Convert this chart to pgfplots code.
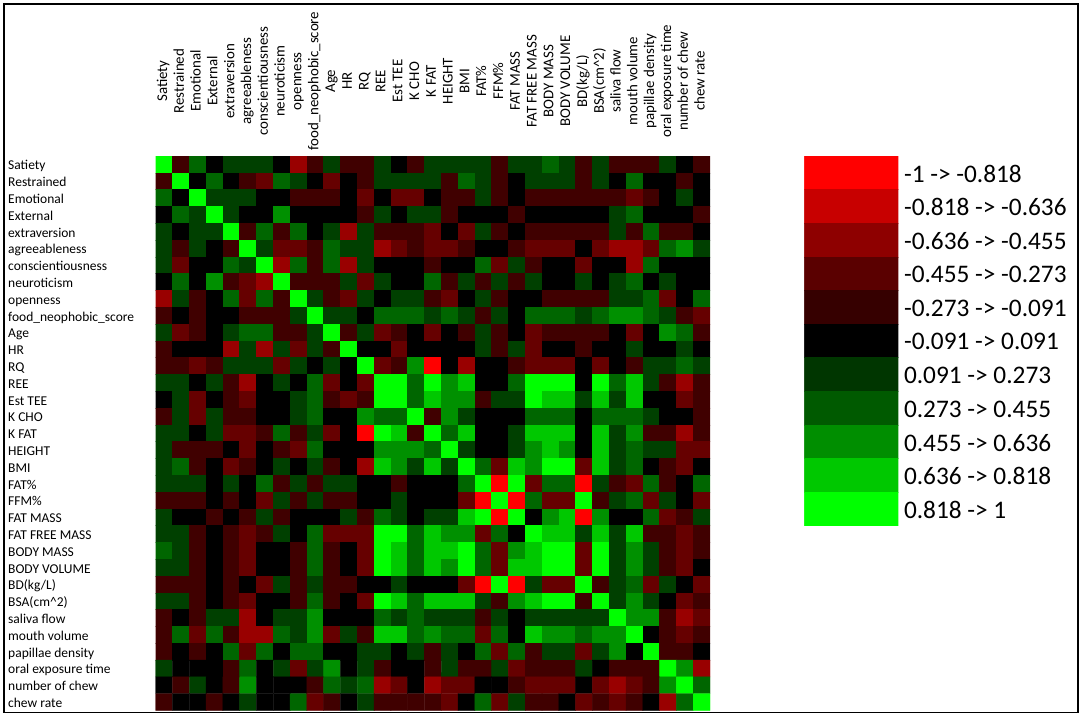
\documentclass[border=0pt]{standalone}
\usepackage{fontspec}
\setmainfont{Carlito}
\usepackage{pgfplots}
\pgfplotsset{compat=1.18}

% bins: -5 = -1..-0.818, 0 = -0.091..0.091, 5 = 0.818..1
\pgfplotsset{
  colormap={corr}{rgb255=(255,0,0) rgb255=(200,0,0) rgb255=(153,0,0) rgb255=(102,0,0) rgb255=(64,0,0) rgb255=(0,0,0) rgb255=(0,64,0) rgb255=(0,102,0) rgb255=(0,144,0) rgb255=(0,200,0) rgb255=(0,255,0)},
  colormap={corrkey}{rgb255=(255,0,0) rgb255=(200,0,0) rgb255=(142,0,0) rgb255=(90,0,0) rgb255=(54,0,0) rgb255=(0,0,0) rgb255=(0,54,0) rgb255=(0,90,0) rgb255=(0,142,0) rgb255=(0,200,0) rgb255=(0,255,0)},
}

\begin{document}
\begin{tikzpicture}[x=1pt,y=1pt]
\useasboundingbox (0,0) rectangle (1084,718);

\begin{axis}[
  at={(155.7pt,7.5pt)},anchor=south west,
  scale only axis,width=554.3pt,height=554.6pt,
  colormap name=corr,colormap access=piecewise constant,
  point meta min=-5.5,point meta max=5.5,
  y dir=reverse,
  xmin=-0.5,xmax=32.5,ymin=-0.5,ymax=32.5,
  axis line style={draw=none},
  major tick length=0pt,
  xtick={0,...,32},ytick={0,...,32},
  xticklabel pos=upper,
  xticklabels={Satiety,Restrained,Emotional,External,extraversion,agreeableness,conscientiousness,neuroticism,openness,food\_neophobic\_score,Age,HR,RQ,REE,Est TEE,K CHO,K FAT,HEIGHT,BMI,FAT\%,FFM\%,FAT MASS,FAT FREE MASS,BODY MASS,BODY VOLUME,BD(kg/L),BSA(cm\textasciicircum 2),saliva flow,mouth volume,papillae density,oral exposure time,number of chew,chew rate},
  yticklabels={Satiety,Restrained,Emotional,External,extraversion,agreeableness,conscientiousness,neuroticism,openness,food\_neophobic\_score,Age,HR,RQ,REE,Est TEE,K CHO,K FAT,HEIGHT,BMI,FAT\%,FFM\%,FAT MASS,FAT FREE MASS,BODY MASS,BODY VOLUME,BD(kg/L),BSA(cm\textasciicircum 2),saliva flow,mouth volume,papillae density,oral exposure time,number of chew,chew rate},
  tick label style={font=\fontsize{13.5}{14}\selectfont,text height=9pt,text depth=3pt,inner sep=0pt},
  x tick label style={font=\fontsize{14.9}{15}\selectfont,rotate=90,anchor=center,xshift=74.8pt},
  y tick label style={anchor=west,xshift=-147.7pt,yshift=-2.5pt},
]
\addplot[matrix plot*,mesh/cols=33,point meta=\thisrow{v}] table[row sep=\\,
  x expr={\coordindex-33*floor((\coordindex+0.5)/33)},
  y expr={floor((\coordindex+0.5)/33)}] {
v\\
5\\-1\\2\\0\\1\\1\\1\\0\\-3\\-1\\1\\-1\\-1\\1\\0\\-1\\1\\1\\1\\1\\-1\\1\\1\\2\\1\\-1\\1\\-1\\-1\\-1\\1\\0\\-1\\
-1\\5\\0\\2\\0\\-1\\-2\\2\\1\\0\\-2\\0\\-1\\1\\1\\1\\1\\-1\\2\\1\\-1\\0\\1\\1\\1\\-1\\1\\0\\2\\0\\0\\-1\\0\\
2\\0\\5\\1\\1\\1\\0\\0\\-1\\-1\\-1\\0\\-2\\0\\-2\\-2\\0\\-1\\-1\\1\\-1\\0\\-1\\-1\\-1\\-1\\-1\\-1\\-2\\-1\\0\\1\\0\\
0\\2\\1\\5\\1\\0\\0\\3\\0\\0\\0\\0\\-1\\1\\0\\1\\1\\-1\\0\\0\\0\\-1\\0\\0\\0\\0\\0\\1\\2\\0\\0\\0\\-1\\
1\\0\\1\\1\\5\\-1\\2\\-1\\2\\0\\1\\-3\\1\\-1\\-1\\-1\\-2\\0\\-2\\1\\-1\\0\\-1\\-1\\-1\\-1\\-1\\1\\-1\\2\\-1\\-1\\0\\
1\\-1\\1\\0\\-1\\5\\1\\-2\\-2\\-1\\2\\1\\1\\-3\\-2\\-1\\-2\\-2\\-1\\0\\0\\-1\\-2\\-2\\-2\\0\\-2\\-3\\-3\\-2\\2\\3\\1\\
1\\-2\\0\\0\\2\\1\\5\\-3\\2\\-1\\2\\-3\\1\\0\\0\\0\\-1\\0\\0\\2\\-2\\1\\-1\\0\\0\\-2\\0\\0\\-3\\2\\0\\0\\0\\
0\\2\\0\\3\\-1\\-2\\-3\\5\\-1\\-1\\-1\\1\\-2\\1\\0\\0\\2\\-1\\1\\-1\\1\\-1\\1\\0\\0\\1\\0\\1\\2\\0\\1\\0\\0\\
-3\\1\\-1\\0\\2\\-2\\2\\-1\\5\\1\\-1\\-2\\1\\0\\1\\1\\-1\\-2\\0\\1\\-1\\0\\0\\-1\\-1\\-1\\-1\\1\\1\\2\\-2\\0\\2\\
-1\\0\\-1\\0\\0\\-1\\-1\\-1\\1\\5\\1\\1\\0\\2\\2\\2\\1\\2\\1\\-1\\1\\0\\2\\2\\2\\1\\2\\3\\3\\2\\1\\-1\\-2\\
1\\-2\\-1\\0\\1\\2\\2\\-1\\-1\\1\\5\\-1\\1\\-2\\-1\\0\\-2\\0\\-1\\1\\-1\\0\\-2\\-1\\-1\\-1\\-1\\0\\-2\\0\\3\\2\\-1\\
-1\\0\\0\\0\\-3\\1\\-3\\1\\-2\\1\\-1\\5\\0\\0\\-2\\0\\0\\0\\0\\1\\-1\\1\\-2\\0\\0\\-1\\0\\0\\1\\0\\0\\1\\0\\
-1\\-1\\-2\\-1\\1\\1\\1\\-2\\1\\0\\1\\0\\5\\-2\\-1\\3\\-5\\0\\-3\\0\\0\\-1\\-2\\-2\\-2\\0\\-2\\0\\-1\\1\\1\\2\\1\\
1\\1\\0\\1\\-1\\-3\\0\\1\\0\\2\\-2\\0\\-2\\5\\5\\2\\5\\3\\4\\0\\0\\2\\5\\5\\5\\0\\5\\2\\4\\1\\-1\\-3\\-1\\
0\\1\\-2\\0\\-1\\-2\\0\\0\\1\\2\\-1\\-2\\-1\\5\\5\\2\\4\\3\\3\\-1\\1\\1\\5\\4\\4\\1\\4\\1\\4\\0\\0\\-2\\-1\\
-1\\1\\-2\\1\\-1\\-1\\0\\0\\1\\2\\0\\0\\3\\2\\2\\5\\-1\\3\\1\\0\\0\\0\\2\\2\\2\\0\\2\\2\\2\\1\\0\\0\\-1\\
1\\1\\0\\1\\-2\\-2\\-1\\2\\-1\\1\\-2\\0\\-5\\5\\4\\-1\\5\\2\\4\\0\\0\\1\\4\\4\\4\\0\\4\\1\\3\\-1\\-1\\-3\\-1\\
1\\-1\\-1\\-1\\0\\-2\\0\\-1\\-2\\2\\0\\0\\0\\3\\3\\3\\2\\5\\1\\0\\0\\1\\3\\4\\3\\0\\4\\1\\2\\1\\1\\-2\\-2\\
1\\2\\-1\\0\\-2\\-1\\0\\1\\0\\1\\-1\\0\\-3\\4\\3\\1\\4\\1\\5\\2\\-2\\4\\3\\5\\5\\-2\\4\\1\\2\\0\\-1\\-2\\0\\
1\\1\\1\\0\\1\\0\\2\\-1\\1\\-1\\1\\1\\0\\0\\-1\\0\\0\\0\\2\\5\\-5\\5\\-2\\2\\2\\-5\\1\\-1\\-2\\2\\-1\\0\\2\\
-1\\-1\\-1\\0\\-1\\0\\-2\\1\\-1\\1\\-1\\-1\\0\\0\\1\\0\\0\\0\\-2\\-5\\5\\-5\\2\\-2\\-2\\5\\-1\\1\\2\\-2\\1\\0\\-2\\
1\\0\\0\\-1\\0\\-1\\1\\-1\\0\\0\\0\\1\\-1\\2\\1\\0\\1\\1\\4\\5\\-5\\5\\0\\3\\4\\-5\\3\\0\\0\\2\\-2\\-1\\1\\
1\\1\\-1\\0\\-1\\-2\\-1\\1\\0\\2\\-2\\-2\\-2\\5\\5\\2\\4\\3\\3\\-2\\2\\0\\5\\4\\4\\1\\4\\1\\4\\-1\\-1\\-2\\-1\\
2\\1\\-1\\0\\-1\\-2\\0\\0\\-1\\2\\-1\\0\\-2\\5\\4\\2\\4\\4\\5\\2\\-2\\3\\4\\5\\5\\-2\\5\\1\\3\\1\\-1\\-2\\-1\\
1\\1\\-1\\0\\-1\\-2\\0\\0\\-1\\2\\-1\\0\\-2\\5\\4\\2\\4\\3\\5\\2\\-2\\4\\4\\5\\5\\-2\\5\\1\\3\\1\\-1\\-2\\0\\
-1\\-1\\-1\\0\\-1\\0\\-2\\1\\-1\\1\\-1\\-1\\0\\0\\1\\0\\0\\0\\-2\\-5\\5\\-5\\1\\-2\\-2\\5\\-1\\1\\2\\-2\\1\\0\\-2\\
1\\1\\-1\\0\\-1\\-2\\0\\0\\-1\\2\\-1\\0\\-2\\5\\4\\2\\4\\4\\4\\1\\-1\\3\\4\\5\\5\\-1\\5\\1\\3\\1\\0\\-2\\-1\\
-1\\0\\-1\\1\\1\\-3\\0\\1\\1\\3\\0\\0\\0\\2\\1\\2\\1\\1\\1\\-1\\1\\0\\1\\1\\1\\1\\1\\5\\3\\3\\-1\\-3\\-2\\
-1\\2\\-2\\2\\-1\\-3\\-3\\2\\1\\3\\-2\\1\\-1\\4\\4\\2\\3\\2\\2\\-2\\2\\0\\4\\3\\3\\2\\3\\3\\5\\0\\-1\\-2\\-1\\
-1\\0\\-1\\0\\2\\-2\\2\\0\\2\\2\\0\\0\\1\\1\\0\\1\\-1\\1\\0\\2\\-2\\2\\-1\\1\\1\\-2\\1\\3\\0\\5\\-1\\-1\\0\\
1\\0\\0\\0\\-1\\2\\0\\1\\-2\\1\\3\\0\\1\\-1\\0\\0\\-1\\1\\-1\\-1\\1\\-2\\-1\\-1\\-1\\1\\0\\-1\\-1\\-1\\5\\3\\-3\\
0\\-1\\1\\0\\-1\\3\\0\\0\\0\\-1\\2\\1\\2\\-3\\-2\\0\\-3\\-2\\-2\\0\\0\\-1\\-2\\-2\\-2\\0\\-2\\-3\\-2\\-1\\3\\5\\2\\
-1\\0\\0\\-1\\0\\1\\0\\0\\2\\-2\\-1\\0\\1\\-1\\-1\\-1\\-1\\-2\\0\\2\\-2\\1\\-1\\-1\\0\\-2\\-1\\-2\\-1\\0\\-3\\2\\5\\
};
\end{axis}

% colour key
\begin{axis}[
  at={(804.3pt,192.3pt)},anchor=south west,
  scale only axis,width=94pt,height=369.7pt,
  colormap name=corrkey,colormap access=piecewise constant,
  point meta min=-5.5,point meta max=5.5,
  y dir=reverse,
  xmin=-0.5,xmax=1.5,ymin=-0.5,ymax=10.5,
  axis line style={draw=none},
  major tick length=0pt,
  xtick=\empty,
  ytick={0,...,10},
  yticklabel pos=right,
  yticklabels={-1 -> -0.818,-0.818 -> -0.636,-0.636 -> -0.455,-0.455 -> -0.273,-0.273 -> -0.091,-0.091 -> 0.091,0.091 -> 0.273,0.273 -> 0.455,0.455 -> 0.636,0.636 -> 0.818,0.818 -> 1},
  y tick label style={font=\fontsize{25.3}{26}\selectfont,anchor=west,inner sep=0pt,xshift=5.5pt,yshift=-1pt},
]
\addplot[matrix plot*,mesh/cols=2,point meta=explicit] coordinates {
(0,0)[-5] (1,0)[-5]
(0,1)[-4] (1,1)[-4]
(0,2)[-3] (1,2)[-3]
(0,3)[-2] (1,3)[-2]
(0,4)[-1] (1,4)[-1]
(0,5)[0] (1,5)[0]
(0,6)[1] (1,6)[1]
(0,7)[2] (1,7)[2]
(0,8)[3] (1,8)[3]
(0,9)[4] (1,9)[4]
(0,10)[5] (1,10)[5]
};
\end{axis}

\draw[line width=1.6pt] (4,5.5) rectangle (1077.8,714);
\end{tikzpicture}
\end{document}
